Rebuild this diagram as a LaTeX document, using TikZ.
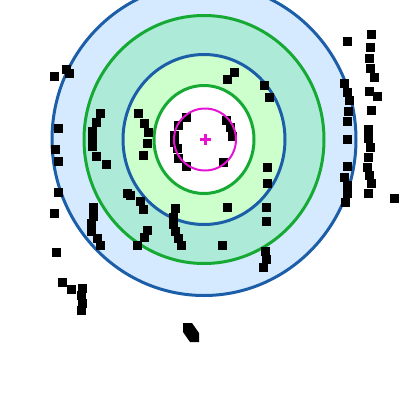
\documentclass[tikz,border=0pt]{standalone}
\definecolor{ringblue}{RGB}{28,94,168}
\definecolor{ringgreen}{RGB}{22,170,52}
\definecolor{outerfill}{RGB}{213,234,255}
\definecolor{midfill}{RGB}{174,234,216}
\definecolor{innerfill}{RGB}{204,255,204}
\definecolor{centremark}{RGB}{230,20,210}
\tikzset{
  ringline/.style={line width=0.75mm},
  dotsq/.style={fill=black}
}
\begin{document}
\begin{tikzpicture}[x=0.25mm, y=-0.25mm]
        \clip (0,0) rectangle (400,400);

        % rings, outside in
        \draw[ringline, draw=ringblue, fill=outerfill]
            (204,139.5) ellipse [x radius=152, y radius=156];
        \draw[ringline, draw=ringgreen, fill=midfill]
            (204,139.5) ellipse [x radius=120, y radius=124];
        \draw[ringline, draw=ringblue, fill=innerfill]
            (204,139.5) ellipse [x radius=81, y radius=85];
        \draw[ringline, draw=ringgreen, fill=white]
            (204,139.5) ellipse [x radius=50, y radius=54];

        % points
        \foreach \x/\y in {54/76, 66/69, 69/73, 58/128, 55/149, 58/161, 58/192,
            54/213, 56/252, 62/282, 71/289, 82/288, 81/295, 82/303, 81/310,
            100/113, 96/122, 92/131, 92/140, 92/146, 96/156, 106/164,
            93/207, 93/216, 91/223, 91/231, 97/238, 100/245,
            138/113, 144/123, 148/132, 147/143, 143/155,
            127/193, 130/195, 140/201, 143/209, 147/230, 144/237, 137/245,
            186/117, 178/125, 174/135, 174/142, 177/148, 178/158, 186/166,
            175/208, 173/217, 173/224, 175/231, 178/238, 181/245,
            226/120, 230/127, 232/136, 223/162,
            234/72, 227/79, 264/85, 269/97,
            267/167, 267/183, 227/207, 266/207, 266/221, 222/245,
            265/251, 266/259, 263/267,
            347/41, 344/83, 347/92, 349/100, 348/111, 347/121, 347/139,
            347/166, 344/177, 347/185, 347/193, 345/202,
            371/34, 370/47, 369/58, 370/68, 374/77, 369/91, 377/96, 371/110,
            368/129, 368/138, 370/147, 368/157, 367/167, 369/175, 371/183,
            368/193, 394/198}
            \fill[dotsq] (\x-4.5,\y-4.5) rectangle ++(9,9);
        \fill[dotsq] (183,323) -- (192,323) -- (199,333) -- (199,342)
            -- (190,342) -- (183,332) -- cycle;

        % centre mark
        \draw[line width=0.5mm, centremark] (205,139.5) circle [radius=31];
        \draw[line width=0.75mm, centremark] (199.5,139.5) -- (210.5,139.5);
        \draw[line width=0.75mm, centremark] (205,134) -- (205,145);
\end{tikzpicture}
\end{document}
